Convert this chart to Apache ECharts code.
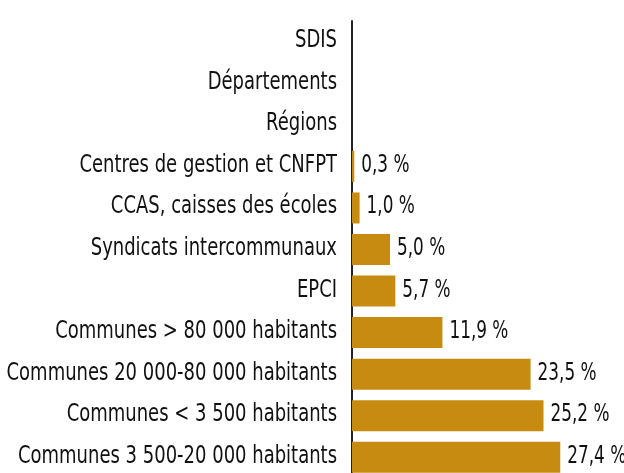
<!DOCTYPE html>
<html>
<head>
<meta charset="utf-8">
<script src="https://cdn.jsdelivr.net/npm/echarts@6/dist/echarts.min.js"></script>
<style>
html,body{margin:0;padding:0;background:#fff;}
#chart{width:624px;height:473px;}
</style>
</head>
<body>
<div id="chart"></div>
<script>
const categories = [
  'SDIS',
  'Départements',
  'Régions',
  'Centres de gestion et CNFPT',
  'CCAS, caisses des écoles',
  'Syndicats intercommunaux',
  'EPCI',
  'Communes > 80 000 habitants',
  'Communes 20 000-80 000 habitants',
  'Communes < 3 500 habitants',
  'Communes 3 500-20 000 habitants'
];
const values = [0, 0, 0, 0.3, 1.0, 5.0, 5.7, 11.9, 23.5, 25.2, 27.4];

function pickFont(cands) {
  const c = document.createElement('canvas').getContext('2d');
  const s = 'Communes 3 500-20 000 habitants';
  for (const f of cands) {
    c.font = '40px monospace';
    const a = c.measureText(s).width;
    c.font = '40px "' + f + '", monospace';
    const b = c.measureText(s).width;
    c.font = '40px serif';
    const a2 = c.measureText(s).width;
    c.font = '40px "' + f + '", serif';
    const b2 = c.measureText(s).width;
    if (a !== b || a2 !== b2) return f;
  }
  return 'sans-serif';
}
const FONTNAME = pickFont(['Liberation Sans Narrow', 'Arial Narrow', 'DejaVu Sans Condensed']);
const NARROW = FONTNAME !== 'DejaVu Sans Condensed';
const SX_CAT = NARROW ? 1 : 0.8;
const SX_VAL = NARROW ? 1 : 0.75;
const FS = 25;

function textEl(x, y, text, align, sx) {
  return {
    type: 'text',
    x: x, y: y,
    scaleX: sx, scaleY: 1,
    style: {
      text: text,
      fontFamily: FONTNAME,
      fontSize: FS,
      fill: '#111',
      align: align, textAlign: align,
      verticalAlign: 'middle', textVerticalAlign: 'middle'
    }
  };
}

const chart = echarts.init(document.getElementById('chart'), null, {renderer: 'canvas'});
chart.setOption({
  animation: false,
  backgroundColor: '#ffffff',
  grid: {left: 352, top: 21, width: 228, height: 457, containLabel: false, outerBoundsMode: 'none'},
  xAxis: {
    type: 'value', min: 0, max: 30, show: false
  },
  yAxis: {
    type: 'category',
    data: categories,
    inverse: true,
    axisLine: {show: true, lineStyle: {color: '#222', width: 2}},
    axisTick: {show: false},
    axisLabel: {show: false}
  },
  series: [{
    type: 'bar',
    data: values,
    barWidth: 31,
    itemStyle: {color: '#C78B12'},
    label: {show: false}
  }, {
    type: 'custom',
    clip: false,
    silent: true,
    data: categories.map((c, i) => [0, i]),
    renderItem: function (params, api) {
      const p = api.coord([0, api.value(1)]);
      return textEl(p[0] - 15, p[1] - 1, categories[params.dataIndex], 'right', SX_CAT);
    }
  }, {
    type: 'custom',
    clip: false,
    silent: true,
    data: values.map((v, i) => [v, i]),
    renderItem: function (params, api) {
      const v = api.value(0);
      if (!(v > 0)) return null;
      const p = api.coord([v, api.value(1)]);
      return textEl(p[0] + 7, p[1] - 1, v.toFixed(1).replace('.', ',') + ' %', 'left', SX_VAL);
    }
  }]
});
</script>
</body>
</html>
